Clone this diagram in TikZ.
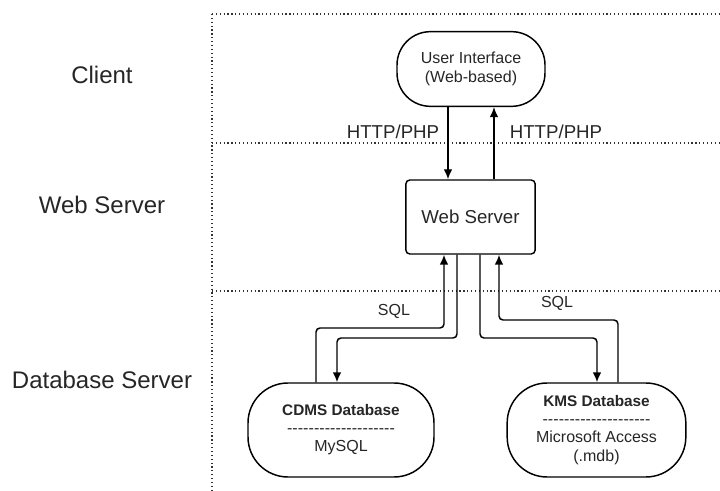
\documentclass[tikz,border=0pt]{standalone}
\usepackage{fontspec}
\setmainfont{Liberation Sans}
\usetikzlibrary{arrows.meta, calc}
\newcommand{\sepdashes}{\hbox to 81pt{\xleaders\hbox{-}\hfill}}

\begin{document}
\begin{tikzpicture}
                [x=0.75pt, y=-0.75pt,
                tiersty/.style={font=\fontsize{18}{20}\selectfont, text=black!85},
                boxsty/.style={draw, line width=1.1pt, align=center, text=black!85, inner sep=0pt},
                labsty/.style={font=\fontsize{14}{16}\selectfont, text=black!85},
                sqlsty/.style={font=\fontsize{12}{14}\selectfont, text=black!85},
                sepsty/.style={dotted, line width=0.9pt, black!80},
                asty/.style={-{Latex[length=7.5pt, width=6.5pt]}, line width=1.1pt, rounded corners=3pt}]
                \useasboundingbox (0,0) rectangle (720,491);
                % tiers
                \draw[sepsty] (212,14) -- (720,14);
                \draw[sepsty] (212,143) -- (720,143);
                \draw[sepsty] (212,291) -- (720,291);
                \draw[sepsty] (212,14) -- (212,491);
                \node[tiersty] (client) at (102,75)  {Client};
                \node[tiersty] (webtier) at (102,205) {Web Server};
                \node[tiersty] (dbtier) at (102,380) {Database Server};
                % nodes
                \node[boxsty, rounded corners=25pt, minimum width=111pt, minimum height=56pt,
                      font=\fontsize{12}{14.5}\selectfont] (ui) at (471,69) {User Interface\\(Web-based)};
                \node[boxsty, rounded corners=3pt, minimum width=97pt, minimum height=55.5pt,
                      font=\fontsize{14}{16}\selectfont] (ws) at (470.5,217) {Web Server};
                \node[boxsty, rounded corners=30pt, minimum width=139.5pt, minimum height=70.5pt,
                      font=\fontsize{12}{14.5}\selectfont] (cdms) at (341,430)
                      {\textbf{\fontsize{11.5}{14}\selectfont CDMS Database}\\[-1pt]\sepdashes\\[-1pt]MySQL};
                \node[boxsty, rounded corners=30pt, minimum width=134pt, minimum height=70.5pt,
                      font=\fontsize{12}{14.5}\selectfont] (kms) at (596.5,430)
                      {\textbf{\fontsize{11.5}{14}\selectfont KMS Database}\\[-1pt]\sepdashes\\[-1pt]Microsoft Access\\(.mdb)};
                % client <-> web server
                \draw[asty] (448,0 |- ui.south) -- (448,0 |- ws.north);
                \draw[asty] (494,0 |- ws.north) -- (494,0 |- ui.south);
                \node[labsty] (httpl) at (393,132) {HTTP/PHP};
                \node[labsty] (httpr) at (556,132) {HTTP/PHP};
                % web server <-> databases
                \draw[asty] (316,0 |- cdms.north) |- (444,328) -- (444,0 |- ws.south);
                \draw[asty] (457,0 |- ws.south) |- (337,338) -- (337,0 |- cdms.north);
                \draw[asty] (480,0 |- ws.south) |- (597,338) -- (597,0 |- kms.north);
                \draw[asty] (618,0 |- kms.north) |- (499,320) -- (499,0 |- ws.south);
                \node[sqlsty] (sqll) at (394,311) {SQL};
                \node[sqlsty] (sqlr) at (557,303) {SQL};
            \end{tikzpicture}
\end{document}
